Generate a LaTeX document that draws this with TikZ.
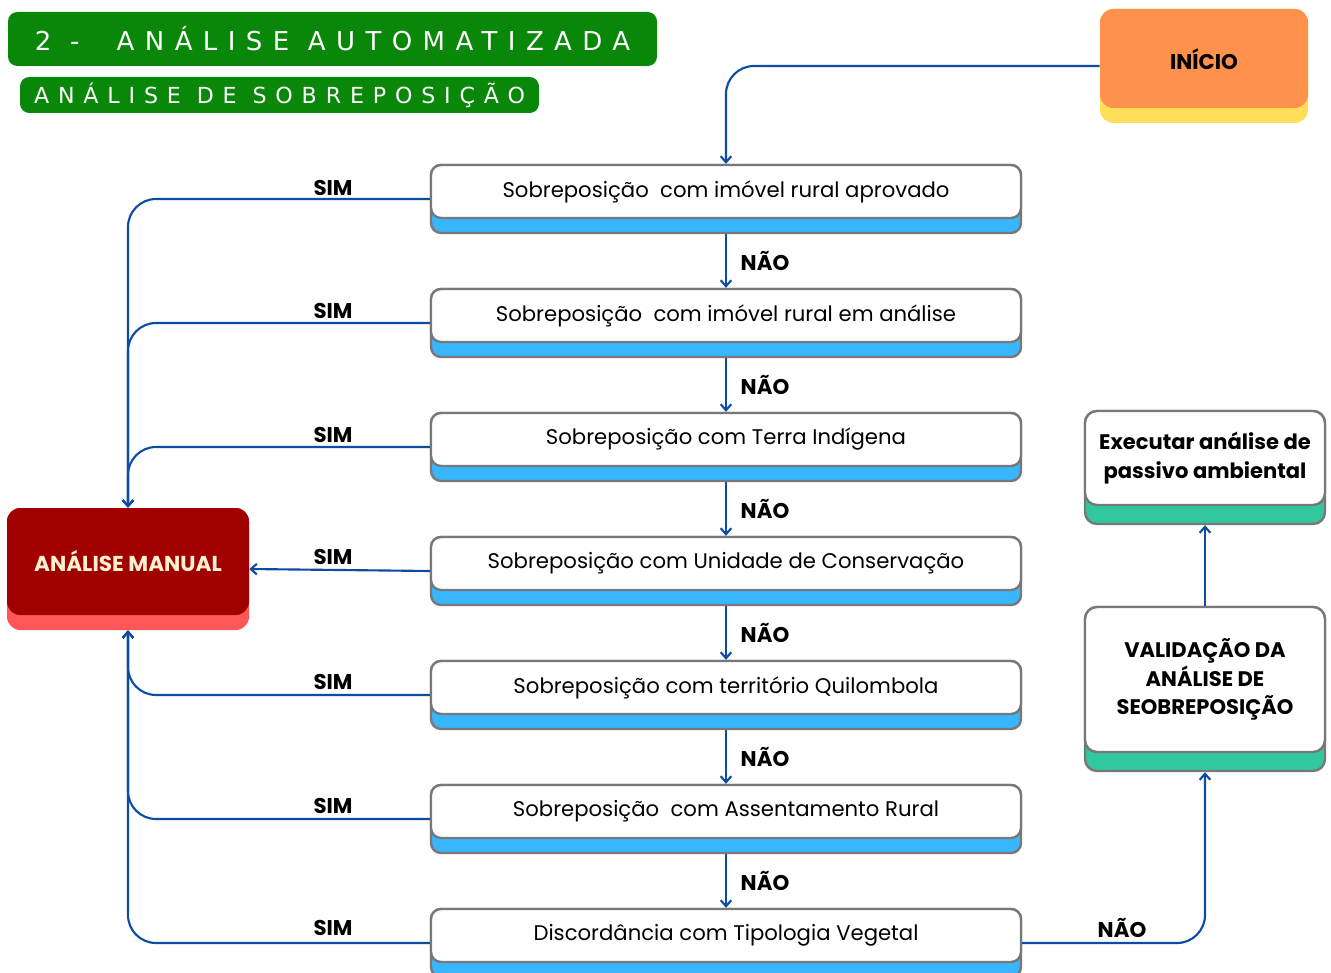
\documentclass[tikz,border=0pt]{standalone}
\usepackage{fontspec}
\setmainfont{Poppins}
\newfontfamily\labelfont{Poppins}
\newfontfamily\titlefont{DejaVu Sans}[LetterSpace=40]
\usetikzlibrary{arrows.meta}

\definecolor{titlegreen}{RGB}{8,135,8}
\definecolor{startorange}{RGB}{255,145,77}
\definecolor{startyellow}{RGB}{255,222,89}
\definecolor{skyblue}{RGB}{56,182,255}
\definecolor{edgegray}{RGB}{120,120,120}
\definecolor{manualred}{RGB}{160,0,0}
\definecolor{manualpink}{RGB}{255,87,87}
\definecolor{manualtext}{RGB}{255,240,210}
\definecolor{tealbase}{RGB}{49,200,160}
\definecolor{linkblue}{RGB}{12,76,162}

\begin{document}
\begin{tikzpicture}[x=0.75pt,y=-0.75pt,
  flowbase/.style={draw=edgegray, line width=1.8pt, fill=skyblue, rounded corners=7.5pt,
    minimum width=442.5pt, minimum height=51pt, inner sep=0pt},
  flowtop/.style={draw=edgegray, line width=1.8pt, fill=white, rounded corners=7.5pt,
    minimum width=442.5pt, minimum height=39.75pt, inner sep=0pt, anchor=north,
    font=\fontsize{15.9}{19}\selectfont},
  sidebase/.style={draw=edgegray, line width=1.8pt, fill=tealbase, rounded corners=9pt,
    minimum width=180pt, inner sep=0pt},
  sidetop/.style={draw=edgegray, line width=1.8pt, fill=white, rounded corners=9pt,
    minimum width=180pt, inner sep=0pt, anchor=north, align=center,
    font=\labelfont\bfseries\fontsize{15.8}{21.5}\selectfont},
  titlebox/.style={fill=titlegreen, rounded corners=7pt, inner sep=0pt, text=white},
  conn/.style={draw=linkblue, line width=1.6pt, rounded corners=21pt,
    -{Straight Barb[length=4.5pt,width=8pt]}},
  lbl/.style={font=\labelfont\bfseries\fontsize{16}{19}\selectfont, inner sep=0pt}
]
\useasboundingbox (0,0) rectangle (1331,973);

% header banners
\node[titlebox, minimum width=486.75pt, minimum height=40.5pt,
  font=\titlefont\fontsize{19.5}{22}\selectfont] (head) at (332.5,39) {2 -\ \ ANÁLISE AUTOMATIZADA};
\node[titlebox, minimum width=389.25pt, minimum height=27pt,
  font=\titlefont\fontsize{16.6}{19}\selectfont] (sub) at (279.5,95) {ANÁLISE DE SOBREPOSIÇÃO};

% start box
\node[fill=startyellow, rounded corners=10pt, minimum width=156pt, minimum height=85.5pt,
  inner sep=0pt] (ini) at (1204,66) {};
\node[fill=startorange, rounded corners=10pt, minimum width=156pt, minimum height=74.25pt,
  inner sep=0pt, anchor=north, text height=16pt, text depth=0pt,
  font=\labelfont\bfseries\fontsize{16}{19}\selectfont] (init) at (ini.north) {INÍCIO};

% manual analysis box
\node[fill=manualpink, rounded corners=10pt, minimum width=181.5pt, minimum height=91.5pt,
  inner sep=0pt] (man) at (128,569) {};
\node[fill=manualred, rounded corners=10pt, minimum width=181.5pt, minimum height=80.25pt,
  inner sep=0pt, anchor=north, text=manualtext,
  font=\labelfont\bfseries\fontsize{16.2}{19}\selectfont] (mant) at (man.north) {ANÁLISE MANUAL};

% overlap checks
\foreach \i/\t/\txt in {
  1/165/{Sobreposição\ \ com imóvel rural aprovado},
  2/289/{Sobreposição\ \ com imóvel rural em análise},
  3/413/{Sobreposição com Terra Indígena},
  4/537/{Sobreposição com Unidade de Conservação},
  5/661/{Sobreposição com território Quilombola},
  6/785/{Sobreposição\ \ com Assentamento Rural},
  7/909/{Discordância com Tipologia Vegetal}} {
  \node[flowbase] (b\i) at (726,\t+34) {};
  \node[flowtop] (t\i) at (b\i.north) {\txt};
}

% right-hand boxes
\node[sidebase, minimum height=84.75pt] (exe) at (1205,467.5) {};
\node[sidetop, minimum height=70.5pt] (exet) at (exe.north) {Executar análise de\\passivo ambiental};
\node[sidebase, minimum height=123pt] (val) at (1205,689) {};
\node[sidetop, minimum height=108.75pt] (valt) at (val.north) {VALIDAÇÃO DA\\ANÁLISE DE\\SEOBREPOSIÇÃO};

% connectors
\draw[conn] (ini.west) -| (b1.north);
\foreach \i/\j/\t in {1/2/165,2/3/289,3/4/413,4/5/537,5/6/661,6/7/785} {
  \draw[conn] (b\i.south) -- (b\j.north);
  \node[lbl] (nao\i) at (765,\t+96) {NÃO};
}
\foreach \i in {1,2,3} { \draw[conn] (b\i.west) -| (man.north); }
\draw[conn] (b4.west) -- (man.east);
\foreach \i in {5,6,7} { \draw[conn] (b\i.west) -| (man.south); }
\draw[conn] (b7.east) -| (val.south);
\draw[conn] (val.north) -- (exe.south);

% answer labels
\foreach \i/\y in {1/188,2/311,3/435,4/557,5/682,6/806,7/928} {
  \node[lbl] (sim\i) at (333,\y) {SIM};
}
\node[lbl] (naoend) at (1122,928) {NÃO};
\end{tikzpicture}
\end{document}
